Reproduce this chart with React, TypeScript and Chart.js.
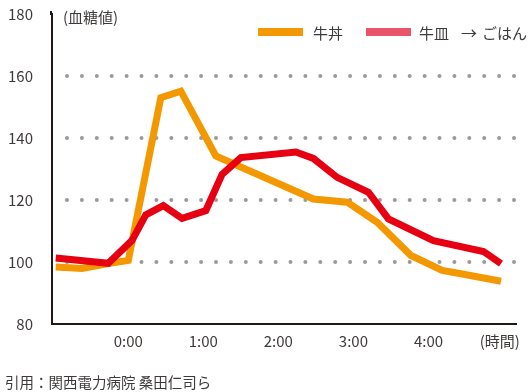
import React, { useEffect, useRef } from 'react';
import { Chart, registerables } from 'chart.js';

Chart.register(...registerables);

// ---- data (minutes from meal start, blood glucose mg/dL) ----
const gyudonMinutes = [-58, -37, -16, 0, 26, 42, 70, 148, 175, 199, 226, 251, 266, 298];
const gyudonValues = [98.4, 97.9, 99.5, 100.5, 153, 155.1, 134.2, 120.3, 119.3, 112.8, 102.1, 97.3, 96.2, 93.8];
const gyusaraMinutes = [-58, -16, 3, 14, 28, 43, 62, 75, 90, 134, 148, 167, 192, 208, 244, 284, 298];
const gyusaraValues = [101.3, 99.6, 107, 115.2, 118.2, 114.1, 116.6, 128.3, 133.7, 135.5, 133.4, 127.3, 122.5, 113.9, 106.9, 103.4, 99.5];

const seriesLabels = ['牛丼', '牛皿 → ごはん'];
const xTickValues = [0, 60, 120, 180, 240, 297];
const xTickLabels = ['0:00', '1:00', '2:00', '3:00', '4:00', '(時間)'];
const gridValues = [100, 120, 140, 160];
const yAxisLabel = '(血糖値)';
const citation = '引用：関西電力病院 桑田仁司ら';

const FONT = "'Noto Sans CJK JP', 'Noto Sans', sans-serif";
const TEXT = '#3e3a39';
const ORANGE = '#f39800';
const RED = '#e60012';
const RED_SWATCH = '#e9546b';

const decor = {
  id: 'decor',
  beforeDatasetsDraw(chart: any) {
    const { ctx, chartArea, scales } = chart;
    ctx.save();
    ctx.fillStyle = '#9a9a9a';
    for (const v of gridValues) {
      const py = scales.y.getPixelForValue(v);
      for (let px = chartArea.left + 15; px <= chartArea.right - 1; px += 14.9) {
        ctx.beginPath();
        ctx.arc(px, py, 2, 0, Math.PI * 2);
        ctx.fill();
      }
    }
    // extend the vertical axis a touch above the top tick
    ctx.fillStyle = '#231815';
    ctx.fillRect(chartArea.left - 2, chartArea.top - 3, 2, 4);
    ctx.restore();
  },
  afterDraw(chart: any) {
    const { ctx, chartArea } = chart;
    ctx.save();
    ctx.textBaseline = 'middle';
    ctx.fillStyle = TEXT;
    // y-axis caption
    ctx.font = `15px ${FONT}`;
    ctx.textAlign = 'left';
    ctx.fillText(yAxisLabel, chartArea.left + 11, 17);
    // legend
    const ly = 32;
    ctx.fillStyle = ORANGE;
    ctx.fillRect(258, ly - 4, 45, 8);
    ctx.fillStyle = RED_SWATCH;
    ctx.fillRect(366, ly - 4, 45, 8);
    ctx.fillStyle = TEXT;
    ctx.font = `15px ${FONT}`;
    ctx.fillText(seriesLabels[0], 313, ly + 1);
    const parts = seriesLabels[1].split(' ');
    ctx.fillText(parts[0], 419, ly + 1);
    ctx.font = `16px ${FONT}`;
    ctx.fillText(parts[1], 461, ly + 1);
    ctx.font = `15px ${FONT}`;
    ctx.fillText(parts[2], 482, ly + 1);
    // citation
    ctx.font = `14.5px ${FONT}`;
    ctx.fillText(citation, 5, 382);
    ctx.restore();
  },
};

export default function App() {
  const ref = useRef<HTMLCanvasElement>(null);

  useEffect(() => {
    document.body.style.margin = '0';
    const canvas = ref.current;
    if (!canvas) return;
    const chart = new Chart(canvas, {
      type: 'line',
      data: {
        datasets: [
          {
            label: seriesLabels[0],
            data: gyudonMinutes.map((m, i) => ({ x: m, y: gyudonValues[i] })),
            borderColor: ORANGE,
            backgroundColor: ORANGE,
            borderWidth: 7,
            pointRadius: 0,
            tension: 0,
            borderJoinStyle: 'miter',
            borderCapStyle: 'butt',
            order: 1,
          },
          {
            label: seriesLabels[1],
            data: gyusaraMinutes.map((m, i) => ({ x: m, y: gyusaraValues[i] })),
            borderColor: RED,
            backgroundColor: RED,
            borderWidth: 7,
            pointRadius: 0,
            tension: 0,
            borderJoinStyle: 'miter',
            borderCapStyle: 'butt',
            order: 0,
          },
        ],
      },
      options: {
        animation: false,
        responsive: false,
        devicePixelRatio: 1,
        layout: { padding: { top: 14, right: 16, bottom: 38, left: 0 } },
        plugins: { legend: { display: false }, tooltip: { enabled: false } },
        scales: {
          x: {
            type: 'linear',
            min: -61,
            max: 310,
            grid: { display: false, drawTicks: false },
            border: { display: true, color: '#231815', width: 2 },
            afterBuildTicks: (s: any) => {
              s.ticks = xTickValues.map((v) => ({ value: v }));
            },
            afterFit: (s: any) => {
              s.height = 30;
            },
            ticks: {
              autoSkip: false,
              maxRotation: 0,
              padding: 8,
              color: TEXT,
              font: { family: FONT, size: 15 },
              callback: (_v: any, i: number) => xTickLabels[i],
            },
          },
          y: {
            min: 80,
            max: 180,
            grid: { display: false, drawTicks: true, tickLength: 17 },
            border: { display: true, color: '#231815', width: 2 },
            afterFit: (s: any) => {
              s.width = 52;
            },
            ticks: {
              stepSize: 20,
              padding: 2,
              color: TEXT,
              font: { family: FONT, size: 15 },
            },
          },
        },
      },
      plugins: [decor],
    } as any);
    return () => chart.destroy();
  }, []);

  return (
    <div style={{ position: 'relative', width: 532, height: 392 }}>
      <canvas ref={ref} width={532} height={392} />
    </div>
  );
}
